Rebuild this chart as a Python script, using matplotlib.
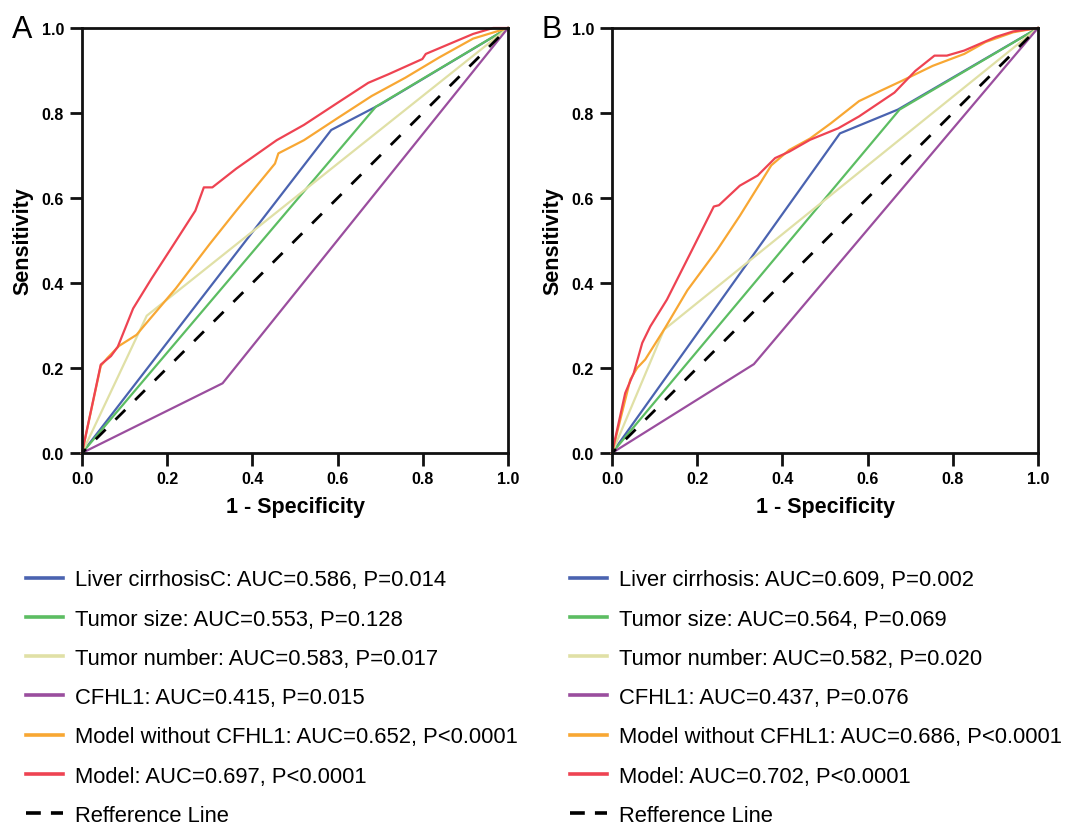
import matplotlib
matplotlib.use('Agg')
import matplotlib.pyplot as plt

plt.rcParams['font.family'] = ['Liberation Sans', 'DejaVu Sans']

# Panel A curves (1 - specificity, sensitivity)
a_liver_x = [0.0, 0.585, 0.70, 1.0]
a_liver_y = [0.0, 0.760, 0.820, 1.0]
a_size_x = [0.0, 0.690, 1.0]
a_size_y = [0.0, 0.815, 1.0]
a_number_x = [0.0, 0.152, 1.0]
a_number_y = [0.0, 0.323, 1.0]
a_cfhl1_x = [0.0, 0.330, 1.0]
a_cfhl1_y = [0.0, 0.164, 1.0]
a_nocfhl1_x = [0.0, 0.044, 0.060, 0.087, 0.128, 0.148, 0.220, 0.300, 0.362, 0.453, 0.461,
               0.521, 0.600, 0.680, 0.759, 0.839, 0.918, 1.0]
a_nocfhl1_y = [0.0, 0.205, 0.224, 0.252, 0.278, 0.302, 0.387, 0.492, 0.570, 0.681, 0.705,
               0.736, 0.788, 0.840, 0.883, 0.931, 0.975, 1.0]
a_model_x = [0.0, 0.044, 0.068, 0.084, 0.100, 0.120, 0.163, 0.216, 0.266, 0.286, 0.306,
             0.362, 0.457, 0.521, 0.600, 0.672, 0.719, 0.799, 0.807, 0.918, 0.965, 1.0]
a_model_y = [0.0, 0.208, 0.228, 0.250, 0.290, 0.340, 0.410, 0.492, 0.570, 0.625, 0.625,
             0.669, 0.736, 0.772, 0.824, 0.871, 0.891, 0.927, 0.939, 0.986, 1.0, 1.0]

# Panel B curves
b_liver_x = [0.0, 0.535, 0.671, 1.0]
b_liver_y = [0.0, 0.752, 0.808, 1.0]
b_size_x = [0.0, 0.675, 1.0]
b_size_y = [0.0, 0.808, 1.0]
b_number_x = [0.0, 0.122, 1.0]
b_number_y = [0.0, 0.290, 1.0]
b_cfhl1_x = [0.0, 0.333, 1.0]
b_cfhl1_y = [0.0, 0.209, 1.0]
b_nocfhl1_x = [0.0, 0.043, 0.059, 0.078, 0.122, 0.177, 0.247, 0.300, 0.374, 0.416, 0.465,
               0.514, 0.580, 0.630, 0.679, 0.753, 0.827, 0.877, 0.942, 1.0]
b_nocfhl1_y = [0.0, 0.173, 0.200, 0.220, 0.290, 0.383, 0.478, 0.558, 0.677, 0.713, 0.740,
               0.776, 0.828, 0.852, 0.875, 0.911, 0.939, 0.967, 0.990, 1.0]
b_model_x = [0.0, 0.031, 0.051, 0.071, 0.090, 0.129, 0.188, 0.239, 0.251, 0.300, 0.342,
             0.383, 0.416, 0.465, 0.531, 0.580, 0.663, 0.712, 0.757, 0.786, 0.827, 0.901,
             0.942, 1.0]
b_model_y = [0.0, 0.141, 0.188, 0.259, 0.298, 0.361, 0.478, 0.580, 0.583, 0.629, 0.653,
             0.694, 0.709, 0.737, 0.764, 0.792, 0.848, 0.899, 0.935, 0.935, 0.947, 0.979,
             0.992, 1.0]

labels_a = ['Liver cirrhosisC: AUC=0.586, P=0.014',
            'Tumor size: AUC=0.553, P=0.128',
            'Tumor number: AUC=0.583, P=0.017',
            'CFHL1: AUC=0.415, P=0.015',
            'Model without CFHL1: AUC=0.652, P<0.0001',
            'Model: AUC=0.697, P<0.0001',
            'Refference Line']
labels_b = ['Liver cirrhosis: AUC=0.609, P=0.002',
            'Tumor size: AUC=0.564, P=0.069',
            'Tumor number: AUC=0.582, P=0.020',
            'CFHL1: AUC=0.437, P=0.076',
            'Model without CFHL1: AUC=0.686, P<0.0001',
            'Model: AUC=0.702, P<0.0001',
            'Refference Line']

colors = ['#4a63b0', '#5cbd62', '#e0e0a6', '#9a4e9e', '#f8a733', '#ee4352']
ticks = [0.0, 0.2, 0.4, 0.6, 0.8, 1.0]
tick_labels = ['0.0', '0.2', '0.4', '0.6', '0.8', '1.0']


def plotar_roc(fig, rect, letra, curvas, labels, leg_x):
    ax = fig.add_axes(rect)
    handles = []
    for (x, y), cor in zip(curvas, colors):
        h, = ax.plot(x, y, color=cor, lw=1.6, solid_joinstyle='round', clip_on=False)
        handles.append(h)
    ref, = ax.plot([0, 1], [0, 1], color='black', lw=2.0, linestyle=(3, (5, 5)))
    handles.append(ref)
    ax.set_xlim(0, 1)
    ax.set_ylim(0, 1)
    ax.set_xticks(ticks)
    ax.set_yticks(ticks)
    ax.set_xticklabels(tick_labels, fontsize=11.5, fontweight='bold')
    ax.set_yticklabels(tick_labels, fontsize=11.5, fontweight='bold')
    ax.tick_params(direction='out', length=9, width=2, pad=4, color='#111111')
    for s in ax.spines.values():
        s.set_linewidth(2)
        s.set_color('#111111')
    ax.set_xlabel('1 - Specificity', fontsize=15.5, fontweight='bold', labelpad=7)
    ax.set_ylabel('Sensitivity', fontsize=15.5, fontweight='bold', labelpad=6)
    fig.text(rect[0] - 0.065, 0.982, letra, fontsize=22, va='top', ha='left')

    leg_handles = []
    for h in handles:
        if h is ref:
            hh, = ax.plot([], [], color='black', lw=2.6, linestyle=(0, (4.1, 2.8)))
        else:
            hh, = ax.plot([], [], color=h.get_color(), lw=2.6)
        leg_handles.append(hh)
    fig.legend(leg_handles, labels, loc='upper left', bbox_to_anchor=(leg_x, 0.311),
               frameon=False, fontsize=15.8, handlelength=1.7, handletextpad=0.55,
               labelspacing=0.83, borderpad=0, borderaxespad=0)
    return ax


fig = plt.figure(figsize=(10.78, 8.28), dpi=100)

curvas_a = [(a_liver_x, a_liver_y), (a_size_x, a_size_y), (a_number_x, a_number_y),
            (a_cfhl1_x, a_cfhl1_y), (a_nocfhl1_x, a_nocfhl1_y), (a_model_x, a_model_y)]
curvas_b = [(b_liver_x, b_liver_y), (b_size_x, b_size_y), (b_number_x, b_number_y),
            (b_cfhl1_x, b_cfhl1_y), (b_nocfhl1_x, b_nocfhl1_y), (b_model_x, b_model_y)]

plotar_roc(fig, [82 / 1078, 1 - 454 / 828, 426 / 1078, 425 / 828], 'A', curvas_a, labels_a, 26 / 1078)
plotar_roc(fig, [612 / 1078, 1 - 454 / 828, 426 / 1078, 425 / 828], 'B', curvas_b, labels_b, 570 / 1078)

fig.savefig('out.png', dpi=100)
